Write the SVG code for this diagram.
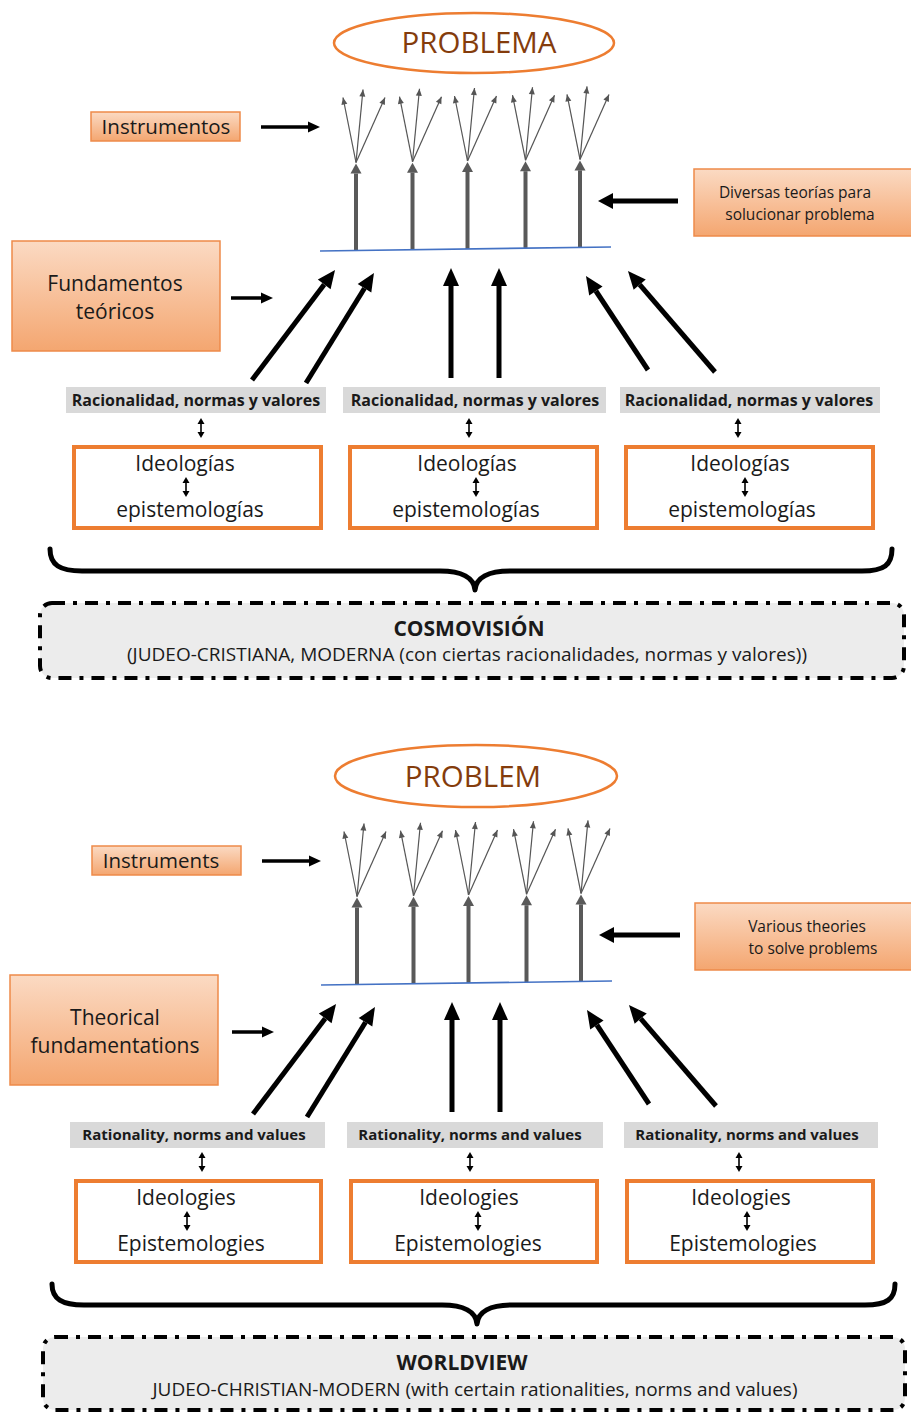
<svg xmlns="http://www.w3.org/2000/svg" xmlns:xlink="http://www.w3.org/1999/xlink" width="911" height="1412" viewBox="0 0 911 1412">
<defs>
<style>
text{font-family:"Open Sans",Lato,"Liberation Sans",sans-serif;fill:#1a1a1a}
.prob{font-size:29.5px;fill:#843C0C;text-anchor:middle}
.lbl{font-size:20.5px}
.mid{text-anchor:middle}
.sm{font-size:15.5px;text-anchor:middle}
.big{font-size:21px;text-anchor:middle}
.rat{font-size:16px;font-weight:bold;text-anchor:middle}
.rat2{font-size:15px;font-weight:bold;text-anchor:middle}
.ide{font-size:21px;text-anchor:middle}
.cos{font-size:21px;font-weight:bold;text-anchor:middle}
.sub{font-size:19px;text-anchor:middle}
.ell{fill:#fff;stroke:#ED7D31;stroke-width:2.5}
.obox{fill:url(#og);stroke:#EE8A4A;stroke-width:1.5}
.gbox{fill:#d9d9d9}
.wbox{fill:#fff;stroke:#ED7D31;stroke-width:4}
.dash{fill:#ececec;stroke:#000;stroke-width:4;stroke-dasharray:13 8 4 8}
.brace{fill:none;stroke:#000;stroke-width:5;stroke-linecap:round;stroke-linejoin:round}
.thick{stroke:#000;stroke-width:5;fill:none;marker-end:url(#big)}
.harrow{stroke:#000;stroke-width:3.5;fill:none;marker-end:url(#med)}
.darrow{stroke:#000;stroke-width:5;fill:none;marker-end:url(#big2)}
.dbl{stroke:#000;stroke-width:1.6;fill:none;marker-start:url(#dh);marker-end:url(#dh)}
.stem{stroke:#595959;stroke-width:4;fill:none;marker-end:url(#sh)}
.fanl{stroke:#555;stroke-width:1.2;fill:none;marker-end:url(#th)}
.base{stroke:#4472C4;stroke-width:1.6;fill:none}
</style>
<linearGradient id="og" x1="0" y1="0" x2="0" y2="1">
<stop offset="0" stop-color="#FBDAC3"/>
<stop offset="1" stop-color="#F4A670"/>
</linearGradient>
<marker id="big" markerUnits="userSpaceOnUse" viewBox="0 -9 18 18" markerWidth="18" markerHeight="18" refX="0" refY="0" orient="auto" overflow="visible"><path d="M0,-8 L18,0 L0,8 z" fill="#000"/></marker>
<marker id="big2" markerUnits="userSpaceOnUse" viewBox="0 -9 16 18" markerWidth="16" markerHeight="18" refX="0" refY="0" orient="auto" overflow="visible"><path d="M0,-8 L15,0 L0,8 z" fill="#000"/></marker>
<marker id="med" markerUnits="userSpaceOnUse" viewBox="0 -6 12 12" markerWidth="12" markerHeight="12" refX="0" refY="0" orient="auto" overflow="visible"><path d="M0,-5.5 L12,0 L0,5.5 z" fill="#000"/></marker>
<marker id="dh" markerUnits="userSpaceOnUse" viewBox="0 -4 6 8" markerWidth="6" markerHeight="8" refX="0" refY="0" orient="auto-start-reverse" overflow="visible"><path d="M0,-3.5 L6,0 L0,3.5 z" fill="#000"/></marker>
<marker id="sh" markerUnits="userSpaceOnUse" viewBox="0 -6 10 12" markerWidth="10" markerHeight="12" refX="0" refY="0" orient="auto" overflow="visible"><path d="M0,-5.5 L10,0 L0,5.5 z" fill="#595959"/></marker>
<marker id="th" markerUnits="userSpaceOnUse" viewBox="0 -3 7 6" markerWidth="7" markerHeight="6" refX="7" refY="0" orient="auto" overflow="visible"><path d="M0,-3 L7,0 L0,3 z" fill="#555"/></marker>
<g id="tree">
<line class="stem" x1="0" y1="250" x2="0" y2="173"/>
<line class="fanl" x1="0" y1="162" x2="-13" y2="97"/>
<line class="fanl" x1="0" y1="162" x2="7" y2="89"/>
<line class="fanl" x1="0" y1="162" x2="29" y2="97"/>
</g>
<g id="fan">
<use xlink:href="#tree" href="#tree" x="356" y="0.5"/>
<use xlink:href="#tree" href="#tree" x="412.5" y="-0.3"/>
<use xlink:href="#tree" href="#tree" x="467.5" y="-1"/>
<use xlink:href="#tree" href="#tree" x="525.5" y="-1.8"/>
<use xlink:href="#tree" href="#tree" x="580" y="-2.6"/>
<line class="base" x1="320" y1="251" x2="611" y2="247"/>
</g>
</defs>

<!-- ============ TOP (Spanish) ============ -->
<g id="problema">
<ellipse class="ell" cx="474" cy="43" rx="140" ry="30"/>
<text class="prob" x="479" y="53">PROBLEMA</text>
</g>
<g id="instrumentos">
<rect class="obox" x="91" y="112" width="149" height="29"/>
<text class="lbl mid" x="166" y="134">Instrumentos</text>
</g>
<g id="diversas">
<rect class="obox" x="694" y="169" width="220" height="67"/>
<text class="sm" x="795" y="198">Diversas teorías para</text>
<text class="sm" x="800" y="220">solucionar problema</text>
</g>
<g id="fundamentos">
<rect class="obox" x="12" y="241" width="208" height="110"/>
<text class="big" x="115" y="291">Fundamentos</text>
<text class="big" x="115" y="319">teóricos</text>
</g>
<g id="racional-1">
<rect class="gbox" x="66" y="387" width="260" height="26"/>
<text class="rat" x="196" y="406">Racionalidad, normas y valores</text>
</g>
<g id="racional-2">
<rect class="gbox" x="343" y="387" width="263" height="26"/>
<text class="rat" x="475" y="406">Racionalidad, normas y valores</text>
</g>
<g id="racional-3">
<rect class="gbox" x="620" y="387" width="260" height="26"/>
<text class="rat" x="749" y="406">Racionalidad, normas y valores</text>
</g>
<g id="ideo-1">
<rect class="wbox" x="74" y="447" width="247" height="81"/>
<text class="ide" x="185" y="471">Ideologías</text>
<text class="ide" x="190" y="517">epistemologías</text>
</g>
<g id="ideo-2">
<rect class="wbox" x="350" y="447" width="247" height="81"/>
<text class="ide" x="467" y="471">Ideologías</text>
<text class="ide" x="466" y="517">epistemologías</text>
</g>
<g id="ideo-3">
<rect class="wbox" x="626" y="447" width="247" height="81"/>
<text class="ide" x="740" y="471">Ideologías</text>
<text class="ide" x="742" y="517">epistemologías</text>
</g>
<g id="cosmovision">
<rect class="dash" x="40" y="603" width="864" height="75" rx="12"/>
<text class="cos" x="469" y="636">COSMOVISIÓN</text>
<text class="sub" x="467" y="661">(JUDEO-CRISTIANA, MODERNA (con ciertas racionalidades, normas y valores))</text>
</g>

<g id="connectors-top">
<use xlink:href="#fan" href="#fan"/>
<line class="harrow" x1="261" y1="127" x2="308" y2="127"/>
<line class="harrow" x1="231" y1="298" x2="261" y2="298"/>
<line class="darrow" x1="678" y1="201" x2="613" y2="201"/>
<line class="thick" x1="252" y1="380" x2="324.2" y2="284.4"/>
<line class="thick" x1="306" y1="383" x2="364.5" y2="288.3"/>
<line class="thick" x1="451" y1="378" x2="451" y2="286"/>
<line class="thick" x1="499" y1="378" x2="499" y2="286"/>
<line class="thick" x1="648" y1="370" x2="595.9" y2="291"/>
<line class="thick" x1="715" y1="372" x2="639.7" y2="284.6"/>
<line class="dbl" x1="201" y1="424" x2="201" y2="432"/>
<line class="dbl" x1="469" y1="424" x2="469" y2="432"/>
<line class="dbl" x1="738" y1="424" x2="738" y2="432"/>
<line class="dbl" x1="186" y1="483" x2="186" y2="491"/>
<line class="dbl" x1="476" y1="483" x2="476" y2="491"/>
<line class="dbl" x1="745" y1="483" x2="745" y2="491"/>
<path class="brace" d="M50,549 C50,565 60,571 82,571 L440,571 C462,571 474,578 475,590 C476,578 488,571 510,571 L862,571 C884,571 892,565 892,549"/>
</g>

<!-- ============ BOTTOM (English) ============ -->
<g id="problem">
<ellipse class="ell" cx="476" cy="776" rx="141" ry="31"/>
<text class="prob" x="473" y="787">PROBLEM</text>
</g>
<g id="instruments">
<rect class="obox" x="92" y="846" width="149" height="29"/>
<text class="lbl mid" x="161" y="868">Instruments</text>
</g>
<g id="various">
<rect class="obox" x="695" y="903" width="220" height="67"/>
<text class="sm" x="807" y="932">Various theories</text>
<text class="sm" x="813" y="954">to solve problems</text>
</g>
<g id="theorical">
<rect class="obox" x="10" y="975" width="208" height="110"/>
<text class="big" x="115" y="1025">Theorical</text>
<text class="big" x="115" y="1053">fundamentations</text>
</g>
<g id="rational-1">
<rect class="gbox" x="70" y="1122" width="255" height="26"/>
<text class="rat2" x="194" y="1140">Rationality, norms and values</text>
</g>
<g id="rational-2">
<rect class="gbox" x="347" y="1122" width="256" height="26"/>
<text class="rat2" x="470" y="1140">Rationality, norms and values</text>
</g>
<g id="rational-3">
<rect class="gbox" x="624" y="1122" width="254" height="26"/>
<text class="rat2" x="747" y="1140">Rationality, norms and values</text>
</g>
<g id="ideol-1">
<rect class="wbox" x="76" y="1181" width="245" height="81"/>
<text class="ide" x="186" y="1205">Ideologies</text>
<text class="ide" x="191" y="1251">Epistemologies</text>
</g>
<g id="ideol-2">
<rect class="wbox" x="351" y="1181" width="246" height="81"/>
<text class="ide" x="469" y="1205">Ideologies</text>
<text class="ide" x="468" y="1251">Epistemologies</text>
</g>
<g id="ideol-3">
<rect class="wbox" x="627" y="1181" width="246" height="81"/>
<text class="ide" x="741" y="1205">Ideologies</text>
<text class="ide" x="743" y="1251">Epistemologies</text>
</g>
<g id="worldview">
<rect class="dash" x="43" y="1337" width="862" height="73" rx="12"/>
<text class="cos" x="462" y="1370">WORLDVIEW</text>
<text class="sub" x="475" y="1396">JUDEO-CHRISTIAN-MODERN (with certain rationalities, norms and values)</text>
</g>

<g id="connectors-bottom">
<use xlink:href="#fan" href="#fan" transform="translate(1,734)"/>
<line class="harrow" x1="262" y1="861" x2="309" y2="861"/>
<line class="harrow" x1="232" y1="1032" x2="262" y2="1032"/>
<line class="darrow" x1="680" y1="935" x2="614" y2="935"/>
<g transform="translate(1,734)">
<line class="thick" x1="252" y1="380" x2="324.2" y2="284.4"/>
<line class="thick" x1="306" y1="383" x2="364.5" y2="288.3"/>
<line class="thick" x1="451" y1="378" x2="451" y2="286"/>
<line class="thick" x1="499" y1="378" x2="499" y2="286"/>
<line class="thick" x1="648" y1="370" x2="595.9" y2="291"/>
<line class="thick" x1="715" y1="372" x2="639.7" y2="284.6"/>
</g>
<line class="dbl" x1="202" y1="1158" x2="202" y2="1166"/>
<line class="dbl" x1="470" y1="1158" x2="470" y2="1166"/>
<line class="dbl" x1="739" y1="1158" x2="739" y2="1166"/>
<line class="dbl" x1="187" y1="1217" x2="187" y2="1225"/>
<line class="dbl" x1="478" y1="1217" x2="478" y2="1225"/>
<line class="dbl" x1="747" y1="1217" x2="747" y2="1225"/>
<path class="brace" d="M52,1284 C52,1299 62,1305 84,1305 L442,1305 C464,1305 476,1312 477,1324 C478,1312 490,1305 512,1305 L865,1305 C887,1305 895,1299 895,1284"/>
</g>
</svg>
